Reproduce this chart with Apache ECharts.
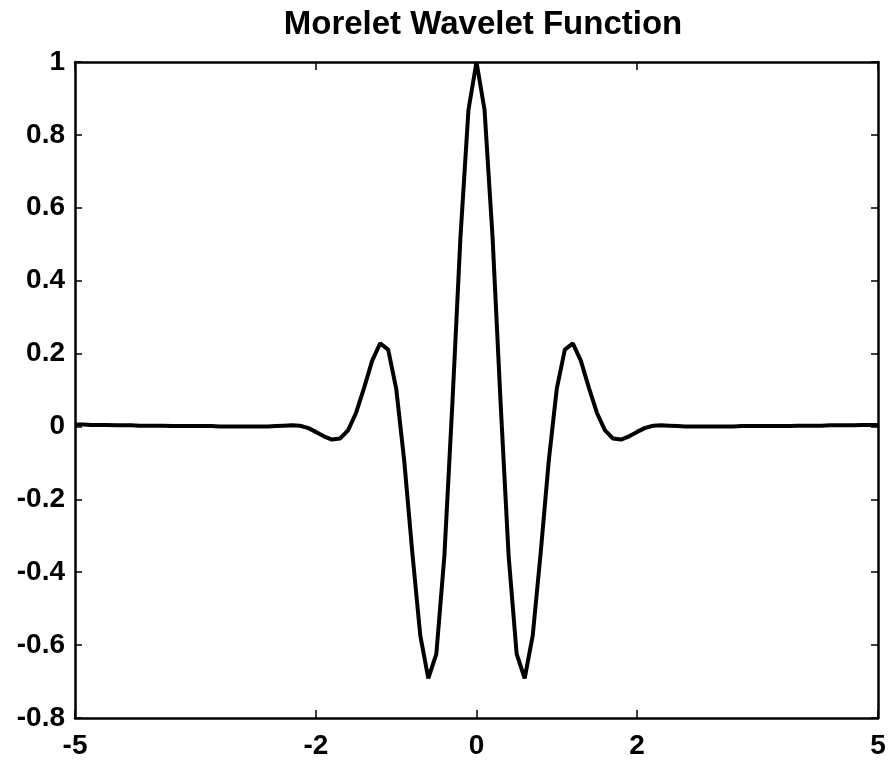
<!DOCTYPE html>
<html>
<head>
<meta charset="utf-8">
<script src="https://cdn.jsdelivr.net/npm/echarts@6/dist/echarts.min.js"></script>
<style>
html,body{margin:0;padding:0;background:#fff;}
#chart{width:889px;height:765px;}
</style>
</head>
<body>
<div id="chart"></div>
<script>
// Data
var titleText = 'Morelet Wavelet Function';
var xValues = [
  -5.0,-4.9,-4.8,-4.7,-4.6,-4.5,-4.4,-4.3,-4.2,-4.1,
  -4.0,-3.9,-3.8,-3.7,-3.6,-3.5,-3.4,-3.3,-3.2,-3.1,
  -3.0,-2.9,-2.8,-2.7,-2.6,-2.5,-2.4,-2.3,-2.2,-2.1,
  -2.0,-1.9,-1.8,-1.7,-1.6,-1.5,-1.4,-1.3,-1.2,-1.1,
  -1.0,-0.9,-0.8,-0.7,-0.6,-0.5,-0.4,-0.3,-0.2,-0.1,
  0.0,0.1,0.2,0.3,0.4,0.5,0.6,0.7,0.8,0.9,
  1.0,1.1,1.2,1.3,1.4,1.5,1.6,1.7,1.8,1.9,
  2.0,2.1,2.2,2.3,2.4,2.5,2.6,2.7,2.8,2.9,
  3.0,3.1,3.2,3.3,3.4,3.5,3.6,3.7,3.8,3.9,
  4.0,4.1,4.2,4.3,4.4,4.5,4.6,4.7,4.8,4.9,5.0
];
var psiValues = [
  0.005,0.005,0.004,0.004,0.004,0.003,0.003,0.003,0.002,0.002,
  0.002,0.002,0.001,0.001,0.001,0.001,0.001,0.001,0.000,0.000,
  0.000,0.000,0.000,0.000,0.000,0.001,0.002,0.003,0.002,-0.004,
  -0.015,-0.027,-0.036,-0.033,-0.011,0.037,0.106,0.180,0.228,0.211,
  0.104,-0.094,-0.345,-0.574,-0.691,-0.624,-0.355,0.065,0.519,0.869,
  1.000,0.869,0.519,0.065,-0.355,-0.624,-0.691,-0.574,-0.345,-0.094,
  0.104,0.211,0.228,0.180,0.106,0.037,-0.011,-0.033,-0.036,-0.027,
  -0.015,-0.004,0.002,0.003,0.002,0.001,0.000,0.000,0.000,0.000,
  0.000,0.000,0.000,0.001,0.001,0.001,0.001,0.001,0.001,0.001,
  0.002,0.002,0.002,0.002,0.003,0.003,0.003,0.003,0.004,0.004,0.004
];
var xTickValues = [-5, -2, 0, 2, 5];
var yMin = -0.8, yMax = 1, yStep = 0.2;

var FONT = '"Liberation Sans", Arial, Helvetica, sans-serif';
var points = xValues.map(function (x, i) { return [x, psiValues[i]]; });

var chart = echarts.init(document.getElementById('chart'), null, {renderer: 'canvas'});
var lineStyle = {color: '#000', width: 2.5};
var labelStyle = {color: '#000', fontFamily: FONT, fontWeight: 'bold', fontSize: 28};

chart.setOption({
  backgroundColor: '#fff',
  animation: false,
  title: {
    text: titleText,
    left: 478,
    top: 3,
    textAlign: 'center',
    textStyle: {color: '#000', fontFamily: FONT, fontWeight: 'bold', fontSize: 33}
  },
  grid: {left: 75, right: 11, top: 62, bottom: 47, containLabel: false},
  xAxis: [{
    type: 'value', min: -5, max: 5, position: 'bottom',
    axisLine: {show: true, onZero: false, lineStyle: lineStyle},
    axisTick: {show: true, inside: true, length: 8, customValues: xTickValues, lineStyle: {color: '#000', width: 1.5}},
    axisLabel: Object.assign({show: true, margin: 14, customValues: xTickValues,
      formatter: function (v) { return String(v); }}, labelStyle),
    splitLine: {show: false}
  }, {
    type: 'value', min: -5, max: 5, position: 'top',
    axisLine: {show: true, onZero: false, lineStyle: lineStyle},
    axisTick: {show: true, inside: true, length: 8, customValues: xTickValues, lineStyle: {color: '#000', width: 1.5}},
    axisLabel: {show: false},
    splitLine: {show: false}
  }],
  yAxis: [{
    type: 'value', min: yMin, max: yMax, interval: yStep, position: 'left',
    axisLine: {show: true, onZero: false, lineStyle: lineStyle},
    axisTick: {show: true, inside: true, length: 7, lineStyle: {color: '#000', width: 1.5}},
    axisLabel: Object.assign({show: true, margin: 10,
      formatter: function (v) { return String(Math.round(v * 10) / 10); }}, labelStyle),
    splitLine: {show: false}
  }, {
    type: 'value', min: yMin, max: yMax, interval: yStep, position: 'right',
    axisLine: {show: true, onZero: false, lineStyle: lineStyle},
    axisTick: {show: true, inside: true, length: 7, lineStyle: {color: '#000', width: 1.5}},
    axisLabel: {show: false},
    splitLine: {show: false}
  }],
  series: [{
    type: 'line',
    xAxisIndex: 0, yAxisIndex: 0,
    data: points,
    showSymbol: false,
    smooth: false,
    lineStyle: {color: '#000', width: 4},
    z: 1
  }]
});
</script>
</body>
</html>
